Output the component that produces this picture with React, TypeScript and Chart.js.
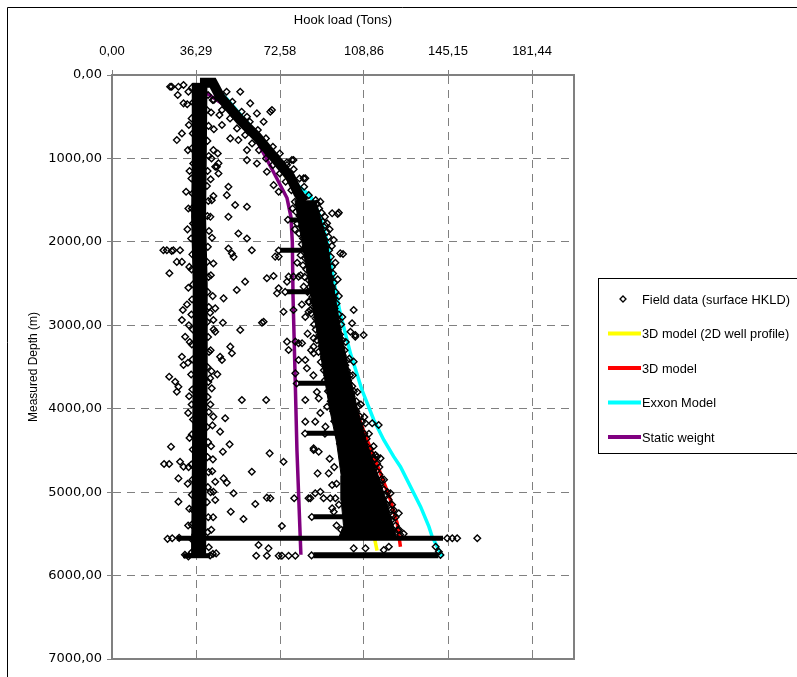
import React, { useEffect, useRef } from 'react';
import { Chart, registerables } from 'chart.js';
Chart.register(...registerables);

// ---------- axis ticks ----------
const xTickValues = [0, 36.29, 72.58, 108.86, 145.15, 181.44];
const xTickLabels = ['0,00', '36,29', '72,58', '108,86', '145,15', '181,44'];
const xMax = 199.58;
const yTickValues = [0, 1000, 2000, 3000, 4000, 5000, 6000, 7000];

// ---------- model curves: [hook load (t), measured depth (m)] ----------
const staticWeight = [
  [41.0, 220], [49.6, 380], [59.7, 635], [69.7, 1160], [75.6, 1475], [77.3, 1700],
  [77.9, 2000], [78.2, 2650], [79.0, 3500], [79.9, 4500], [81.6, 5750],
];
const exxonModel = [
  [43, 100], [50, 300], [60, 620], [68.4, 935], [77, 1250], [85.7, 1450], [90, 1700],
  [93, 2000], [96, 2500], [98.6, 2857], [103, 3336], [108, 3776], [113.1, 4135],
  [117.4, 4375], [121.7, 4575], [124.6, 4695], [133.3, 5174], [136.9, 5414],
  [138.3, 5534], [142.7, 5774],
];
const model3D = [
  [43, 100], [55, 500], [68, 935], [77, 1250], [83, 1500], [86, 1800], [88.6, 2300],
  [91.4, 2600], [94.5, 3000], [101.5, 3656], [105.9, 4055], [110.2, 4375], [116, 4774],
  [120.3, 5094], [123.2, 5373], [124.6, 5654],
];
const model3D2D = [
  [43, 100], [55, 500], [68, 935], [76, 1250], [81.3, 1500], [84, 1900], [86.5, 2300],
  [89.5, 2700], [91.4, 2950], [96, 3600], [101.5, 4175], [105.1, 4575], [110, 5094],
  [114.5, 5700],
];

// ---------- field data (surface HKLD) ----------
// dense cores of the field data
const fieldColumnCore = [
  [38, 95], [37.7, 1000], [37.4, 1700], [38.1, 2500], [38.1, 3500], [37.8, 4500],
  [37.5, 5500], [37.4, 5765],
];
const fieldUpperBandCore = [
  [38, 92], [43.5, 92], [46.7, 260], [55.4, 540], [62.6, 740], [69.8, 980], [77, 1220],
  [80.5, 1420], [83, 1520],
];
const fieldCloudLeft = [
  [79, 1500], [82, 2000], [85, 2500], [88, 3000], [91, 3500], [94, 4000], [97, 4400],
  [99, 4800], [99, 5100], [100, 5400], [98, 5540],
];
const fieldCloudRight = [
  [123, 5540], [121.5, 5400], [118.5, 5100], [115, 4800], [110, 4400], [106, 4000],
  [102, 3500], [98.5, 3000], [95.5, 2500], [93, 2000], [88, 1500],
];
// horizontal runs: [from load, to load, depth]
const fieldRuns = [
  [77, 85.7, 1738], [72.7, 90, 2100], [75.6, 90, 2597], [80.5, 101.5, 3695],
  [84.2, 105.9, 4295], [87, 101.5, 5294], [28, 143, 5553], [30.7, 42.4, 5762],
];
const fieldBottomRun = [[87, 5755], [141, 5755]];
// individual readings
const fieldPoints = [
  [25.8, 140], [28.7, 140], [28.4, 240], [30.9, 120], [30.9, 340], [28, 780], [30.2, 700], [25.1, 140],
  [46.4, 480], [47.5, 600], [51.1, 760], [55.4, 200], [59.7, 340], [68.4, 440], [69.1, 420], [62.6, 460],
  [65.5, 560], [58.3, 500], [54.6, 780], [58.3, 900], [43.8, 900], [45.7, 940], [58.3, 1020], [62.6, 1060],
  [45.3, 1100], [46, 1180], [50.3, 1340], [49.6, 1440], [66.9, 1160], [69.8, 1320], [72, 1400], [50.3, 1700],
  [43.1, 1500], [54.6, 1900], [58.3, 1960], [60.4, 2100], [50.3, 2080], [51.8, 2140], [52.5, 2180],
  [43.8, 2260], [53.2, 1559], [58.3, 1579], [46, 1059], [44.6, 1099],
  [22.2, 2100], [23.7, 2100], [25.8, 2110], [26.5, 2100], [29.4, 2100], [28, 2240], [30.2, 2240],
  [77.7, 1019], [82.8, 1239], [78.4, 1019], [73.4, 1059], [75.6, 1079], [83.5, 1239], [90, 1518],
  [95.1, 1658], [97.5, 1666], [98, 1650], [92.9, 1778], [95.8, 1978], [98.6, 2138], [99.8, 2146],
  [104.4, 2817], [108.7, 3116], [103, 3077], [105.1, 3137], [103.7, 2976], [105.1, 3116], [104.4, 3436],
  [24.8, 2377], [48.2, 2677], [53.9, 2577], [57.5, 2477], [66.9, 2437], [69.8, 2410], [71.3, 2617],
  [44.6, 2797], [43.8, 2937], [47.9, 2969], [64.8, 2969], [55.4, 3056], [44.6, 3077], [51.1, 3256],
  [51.8, 3336], [46.7, 3377], [47.5, 3416], [45.5, 3588], [42.4, 3636], [43.1, 3756], [56.1, 3896],
  [66.6, 3896], [48.9, 4115], [43.8, 4095], [46.7, 4275], [50.8, 4427], [47.9, 4515], [68.1, 4535],
  [25.5, 4455], [24.7, 3616], [27.3, 3676], [28.7, 3736], [28, 3796], [30.6, 2817], [30.2, 2937],
  [31.6, 3137], [30.2, 3377], [30.9, 3476],
  [22.5, 4663], [24.7, 4663], [29.4, 4635], [30.9, 4695], [28.7, 4835], [28.7, 5114], [43.6, 4607],
  [44.6, 4875], [48.2, 4835], [49.6, 4887], [43.8, 4995], [52.5, 5014], [44.6, 5094], [60.4, 4755],
  [74.1, 4635], [61.9, 5142], [66.9, 5066], [68.4, 5074], [51.3, 5234], [56.8, 5322], [73.4, 5406],
  [78.7, 5074], [84.9, 5074], [63.3, 5634], [67.6, 5674], [45, 5734], [62.3, 5762], [66.9, 5762],
  [72, 5762], [73.4, 5762], [76.3, 5762], [79.2, 5762],
  [72, 2557], [76.3, 2417], [78.4, 2417], [80.6, 2417], [70.5, 2177], [72, 2177], [65.5, 2957],
  [85.7, 2817], [84.9, 2717], [74.1, 2837], [78.4, 2817], [87.1, 2717], [75.6, 3196], [76.3, 3296],
  [79.2, 3196], [80.6, 3216], [82.1, 3216], [80.6, 3416], [83.5, 3416], [84.2, 3516], [79.2, 3576],
  [87.1, 3156], [87.1, 3256], [87.1, 3336], [84.9, 2837], [83.5, 3896], [89.3, 3876], [92.9, 3976],
  [83.5, 4155], [87.8, 4155], [92.2, 4215], [109.5, 4175], [112.4, 4175], [115.2, 4195], [87.1, 4495],
  [89.3, 4515], [75.6, 2477], [82.8, 2537], [87.8, 2517], [113.8, 4555],
  [87.1, 4475], [88.8, 4775], [93.6, 4775], [95.1, 4915], [87.8, 5014], [90, 4995], [91.4, 5074],
  [94.3, 5074], [96.5, 5074], [85.7, 5074], [95.1, 5194], [95.8, 5234], [104.4, 5674], [109.5, 5674],
  [117.4, 5694], [119.6, 5654], [121.7, 5214], [114.5, 4575], [116, 4595], [120.3, 5014], [123.9, 5254],
  [144.8, 5553], [147, 5553], [149.1, 5553], [157.8, 5553], [139.8, 5654], [141.2, 5714],
  [26, 5553], [24, 5560], [29, 5548],
  // column edges (outer)
  [33, 200], [32.5, 350], [43.5, 300], [42.8, 450], [33.2, 600], [44, 650], [32.8, 900], [43, 1000],
  [33.5, 1150], [42.6, 1250], [32, 1400], [43.8, 1450], [33, 1600], [42.5, 1700], [32.6, 1850],
  [43.2, 1950], [33.4, 2300], [42.7, 2400], [33, 2550], [43.5, 2650], [32.4, 2750], [42.4, 2850],
  [33.2, 3000], [43.9, 3050], [33.6, 3200], [42.6, 3300], [32.8, 3450], [43, 3550], [33.3, 3850],
  [42.5, 3950], [32.9, 4050], [43.4, 4200], [33.5, 4350], [42.8, 4450], [33.1, 4700], [43.3, 4750],
  [32.7, 4900], [42.6, 5000], [33.4, 5200], [43.7, 5300], [32.9, 5400], [42.9, 5450], [31.5, 5750],
  [33, 5770], [42.4, 5760], [43.6, 5740],
  // column edges (inner)
  [34.6, 150], [35, 330], [34.4, 520], [34.9, 700], [34.5, 880], [35.1, 1060], [34.3, 1240], [34.8, 1420],
  [34.5, 1600], [35, 1780], [34.2, 1960], [34.7, 2150], [34.4, 2330], [35, 2510], [34.6, 2690], [34.3, 2870],
  [34.9, 3050], [34.5, 3230], [34.8, 3410], [34.2, 3590], [34.7, 3770], [34.4, 3950], [35, 4130], [34.5, 4310],
  [34.9, 4490], [34.3, 4670], [34.8, 4850], [34.5, 5030], [34.9, 5210], [34.4, 5390], [34.7, 5570], [34.5, 5720],
  [41.5, 240], [41, 420], [41.7, 610], [41.2, 790], [41.8, 970], [41.3, 1150], [41, 1330], [41.6, 1510],
  [41.2, 1690], [41.9, 1870], [41.4, 2060], [41, 2240], [41.7, 2420], [41.3, 2600], [41.8, 2780], [41.1, 2960],
  [41.5, 3140], [41.9, 3320], [41.2, 3500], [41.6, 3680], [41.3, 3860], [41.8, 4040], [41, 4220], [41.5, 4400],
  [41.2, 4580], [41.7, 4760], [41.4, 4940], [41, 5120], [41.6, 5300], [41.3, 5480], [41.8, 5660],
  // upper band edges
  [44, 300], [47.5, 420], [51, 520], [54, 640], [57.5, 720], [60.5, 820], [63.5, 900], [66.5, 1000],
  [69.5, 1080], [72.5, 1180], [75, 1280], [77.5, 1380],
  [49.5, 200], [52, 320], [56, 440], [59.5, 560], [63, 660], [66.5, 760], [69.5, 860], [72.5, 940],
  [75.5, 1050], [78.5, 1130], [81, 1240], [83, 1340], [85, 1440],
  // cloud
  [79, 1520], [80.5, 1560], [79.5, 1640], [81, 1690], [80, 1780], [82, 1820], [80.8, 1900], [82.5, 1960],
  [88.5, 1540], [89.5, 1600], [90.5, 1650], [91, 1760], [92, 1800], [92.8, 1880], [93.5, 1940], [91.5, 1990],
  [82, 2030], [83, 2080], [81.5, 2160], [83.5, 2200], [82.5, 2280], [84, 2330], [83.2, 2420], [85, 2460],
  [92.5, 2040], [93.8, 2100], [94.5, 2180], [93, 2230], [95, 2300], [95.5, 2380], [94.5, 2440], [96, 2490],
  [85.5, 2540], [84.5, 2600], [86.5, 2660], [85.2, 2720], [87, 2780], [86, 2860], [88, 2920], [87.3, 2990],
  [95, 2540], [96.5, 2600], [95.8, 2680], [97, 2740], [96.2, 2800], [98, 2870], [97.5, 2930], [99, 2990],
  [88, 3050], [89.5, 3120], [88.5, 3180], [90.5, 3250], [89.2, 3320], [91.5, 3380], [90.2, 3440], [92, 3490],
  [97.5, 3050], [98.5, 3110], [99.5, 3180], [98.3, 3240], [100.5, 3300], [99.6, 3360], [101.5, 3420], [100.8, 3480],
  [91.5, 3540], [93, 3600], [92, 3660], [94.5, 3730], [93.3, 3790], [95.5, 3850], [94.5, 3910], [96.5, 3970],
  [101.5, 3540], [102.8, 3600], [102, 3660], [103.8, 3730], [104.5, 3790], [103.5, 3850], [105.5, 3910], [106.5, 3970],
  [95.5, 4030], [97, 4090], [96, 4150], [98.2, 4220], [97.3, 4300], [99.5, 4360], [98.5, 4420], [100.5, 4480],
  [105.5, 4030], [107, 4090], [108, 4160], [107.2, 4230], [109, 4300], [110, 4360], [109.3, 4430], [111.5, 4480],
  [99.5, 4540], [101.5, 4600], [100.3, 4660], [102.5, 4720], [101.5, 4790], [103.5, 4850], [102.3, 4910], [104.5, 4970],
  [112, 4540], [113.5, 4600], [114.5, 4660], [113.2, 4720], [115.5, 4790], [116.5, 4850], [115.8, 4910], [117.5, 4970],
  [102.5, 5030], [104, 5090], [103, 5150], [105, 5210], [103.5, 5280], [102, 5340], [104.5, 5400], [101.5, 5460],
  [103.5, 5510], [118, 5030], [119.5, 5090], [118.6, 5150], [120.5, 5210], [121.5, 5280], [120.6, 5340],
  [122.5, 5400], [123.6, 5460], [124.5, 5510],
  // cloud outer edges
  [78, 1600], [79, 1850], [80, 2250], [81.5, 2400], [82, 2750], [83.5, 2900], [84.5, 3100], [86, 3300],
  [87, 3600], [88.5, 3800], [90, 4050], [92, 4300], [94, 4600], [96, 4700], [97, 4900], [98, 5150],
  [97, 5400], [99, 5450],
  [88, 1500], [92, 1700], [94, 1850], [95, 2050], [96.5, 2250], [97.5, 2450], [98, 2650], [99.5, 2900],
  [101, 3200], [102.5, 3400], [104, 3600], [106, 3800], [107.5, 3950], [109, 4100], [111, 4300],
  [113, 4450], [115.5, 4700], [117.5, 4850], [119, 5000], [121, 5150], [122.5, 5300], [124, 5450],
  [126, 5500],
  // run ends
  [76, 1735], [86.5, 1742], [72, 2104], [90.8, 2096], [74.8, 2600], [90.7, 2594], [79.8, 3698], [102.3, 3692],
  [83.4, 4298], [106.6, 4292], [86.3, 5297], [102.2, 5291], [86.2, 5758], [141.9, 5752],
];

const toXY = (arr: number[][]) => arr.map(([x, y]) => ({ x, y }));
const fmt = (v: number) => v.toFixed(2).replace('.', ',');

const legendItems = [
  { label: 'Field data (surface HKLD)', color: '#000000', marker: true },
  { label: '3D model (2D well profile)', color: '#FFFF00', marker: false },
  { label: '3D model', color: '#FF0000', marker: false },
  { label: 'Exxon Model', color: '#00FFFF', marker: false },
  { label: 'Static weight', color: '#800080', marker: false },
];

const framePlugin = {
  id: 'frame',
  beforeDraw(chart: any) {
    const { ctx, width, height } = chart;
    ctx.save();
    ctx.fillStyle = '#fff';
    ctx.fillRect(0, 0, width, height);
    ctx.strokeStyle = '#000';
    ctx.lineWidth = 1;
    ctx.beginPath();
    ctx.moveTo(7.5, height);
    ctx.lineTo(7.5, 7.5);
    ctx.lineTo(width, 7.5);
    ctx.stroke();
    ctx.restore();
  },
  beforeDatasetsDraw(chart: any) {
    const { ctx, chartArea: a } = chart;
    ctx.save();
    ctx.strokeStyle = '#808080';
    ctx.lineWidth = 2;
    ctx.strokeRect(a.left, a.top, a.right - a.left, a.bottom - a.top);
    ctx.restore();
  },
  afterDraw(chart: any) {
    const { ctx } = chart;
    ctx.save();
    ctx.strokeStyle = '#000';
    ctx.lineWidth = 1;
    ctx.strokeRect(598.5, 278.5, 220, 175);
    ctx.font = '12.8px "Liberation Sans"';
    ctx.textBaseline = 'middle';
    ctx.textAlign = 'left';
    legendItems.forEach((it, i) => {
      const y = 299 + i * 34.5;
      if (it.marker) {
        ctx.beginPath();
        ctx.moveTo(623, y - 3);
        ctx.lineTo(626, y);
        ctx.lineTo(623, y + 3);
        ctx.lineTo(620, y);
        ctx.closePath();
        ctx.fillStyle = '#fff';
        ctx.fill();
        ctx.strokeStyle = '#000';
        ctx.lineWidth = 1.3;
        ctx.stroke();
      } else {
        ctx.strokeStyle = it.color;
        ctx.lineWidth = 4;
        ctx.beginPath();
        ctx.moveTo(608, y);
        ctx.lineTo(641, y);
        ctx.stroke();
      }
      ctx.fillStyle = '#000';
      ctx.fillText(it.label, 642, y + 1);
    });
    ctx.restore();
  },
};

export default function App() {
  const ref = useRef<HTMLCanvasElement | null>(null);
  useEffect(() => {
    if (!ref.current) return;
    const lineDs = (label: string, data: number[][], color: string) => ({
      type: 'line' as const,
      label,
      data: toXY(data),
      borderColor: color,
      backgroundColor: color,
      borderWidth: 3.5,
      pointRadius: 0,
      showLine: true,
      fill: false,
      order: 5,
    });
    const coreDs = (data: number[][], w: number) => ({
      type: 'line' as const,
      label: 'Field data core',
      data: toXY(data),
      borderColor: '#000',
      backgroundColor: '#000',
      borderWidth: w,
      pointRadius: 0,
      showLine: true,
      fill: false,
      order: 2,
    });
    const runs = fieldRuns.map((r) => coreDs([[r[0], r[2]], [r[1], r[2]]], 5));
    const chart = new Chart(ref.current, {
      type: 'scatter',
      data: {
        datasets: [
          lineDs('Static weight', staticWeight, '#800080'),
          lineDs('Exxon Model', exxonModel, '#00FFFF'),
          lineDs('3D model', model3D, '#FF0000'),
          lineDs('3D model (2D well profile)', model3D2D, '#FFFF00'),
          coreDs(fieldColumnCore, 15),
          coreDs(fieldUpperBandCore, 10),
          {
            ...coreDs([...fieldCloudLeft, ...fieldCloudRight], 1),
            fill: 'shape',
          },
          ...runs,
          coreDs(fieldBottomRun, 6),
          {
            type: 'scatter' as const,
            label: 'Field data (surface HKLD)',
            data: toXY(fieldPoints),
            pointStyle: 'rectRot',
            pointRadius: 3.3,
            borderWidth: 1.4,
            borderColor: '#000',
            backgroundColor: 'rgba(255,255,255,0)',
            order: 1,
          },
        ] as any,
      },
      options: {
        animation: false,
        responsive: false,
        layout: { padding: { top: 8, left: 8, right: 223, bottom: 18 } },
        plugins: { legend: { display: false }, tooltip: { enabled: false } },
        scales: {
          x: {
            type: 'linear',
            position: 'top',
            min: 0,
            max: xMax,
            afterBuildTicks: (s: any) => {
              s.ticks = xTickValues.map((v) => ({ value: v }));
            },
            afterFit: (s: any) => {
              s.height = 67;
            },
            ticks: {
              callback: (v: any) => {
                const i = xTickValues.indexOf(Number(v));
                return i >= 0 ? xTickLabels[i] : '';
              },
              font: { family: 'Liberation Sans', size: 13 },
              color: '#000',
              padding: 11,
              maxRotation: 0,
            },
            grid: { color: '#808080', lineWidth: 1, drawTicks: true, tickLength: 5 },
            border: { display: true, color: '#808080', width: 2, dash: [8, 6] },
            title: {
              display: true,
              text: 'Hook load (Tons)',
              font: { family: 'Liberation Sans', size: 13 },
              color: '#000',
              padding: { top: 5, bottom: 0 },
            },
          },
          y: {
            type: 'linear',
            position: 'left',
            reverse: true,
            min: 0,
            max: 7000,
            afterBuildTicks: (s: any) => {
              s.ticks = yTickValues.map((v) => ({ value: v }));
            },
            afterFit: (s: any) => {
              s.width = 104;
            },
            ticks: {
              callback: (v: any) => fmt(Number(v)),
              font: { family: 'DejaVu Sans', size: 13 },
              color: '#000',
              padding: 5,
            },
            grid: { color: '#808080', lineWidth: 1, drawTicks: true, tickLength: 5 },
            border: { display: true, color: '#808080', width: 2, dash: [8, 6] },
            title: {
              display: true,
              text: 'Measured Depth (m)',
              font: { family: 'Liberation Sans', size: 12 },
              color: '#000',
              padding: { top: 18, bottom: 0 },
            },
          },
        },
      } as any,
      plugins: [framePlugin],
    });
    return () => chart.destroy();
  }, []);
  return (
    <div style={{ position: 'absolute', left: 0, top: 0, width: 797, height: 677 }}>
      <canvas ref={ref} width={797} height={677} style={{ display: 'block' }} />
    </div>
  );
}
